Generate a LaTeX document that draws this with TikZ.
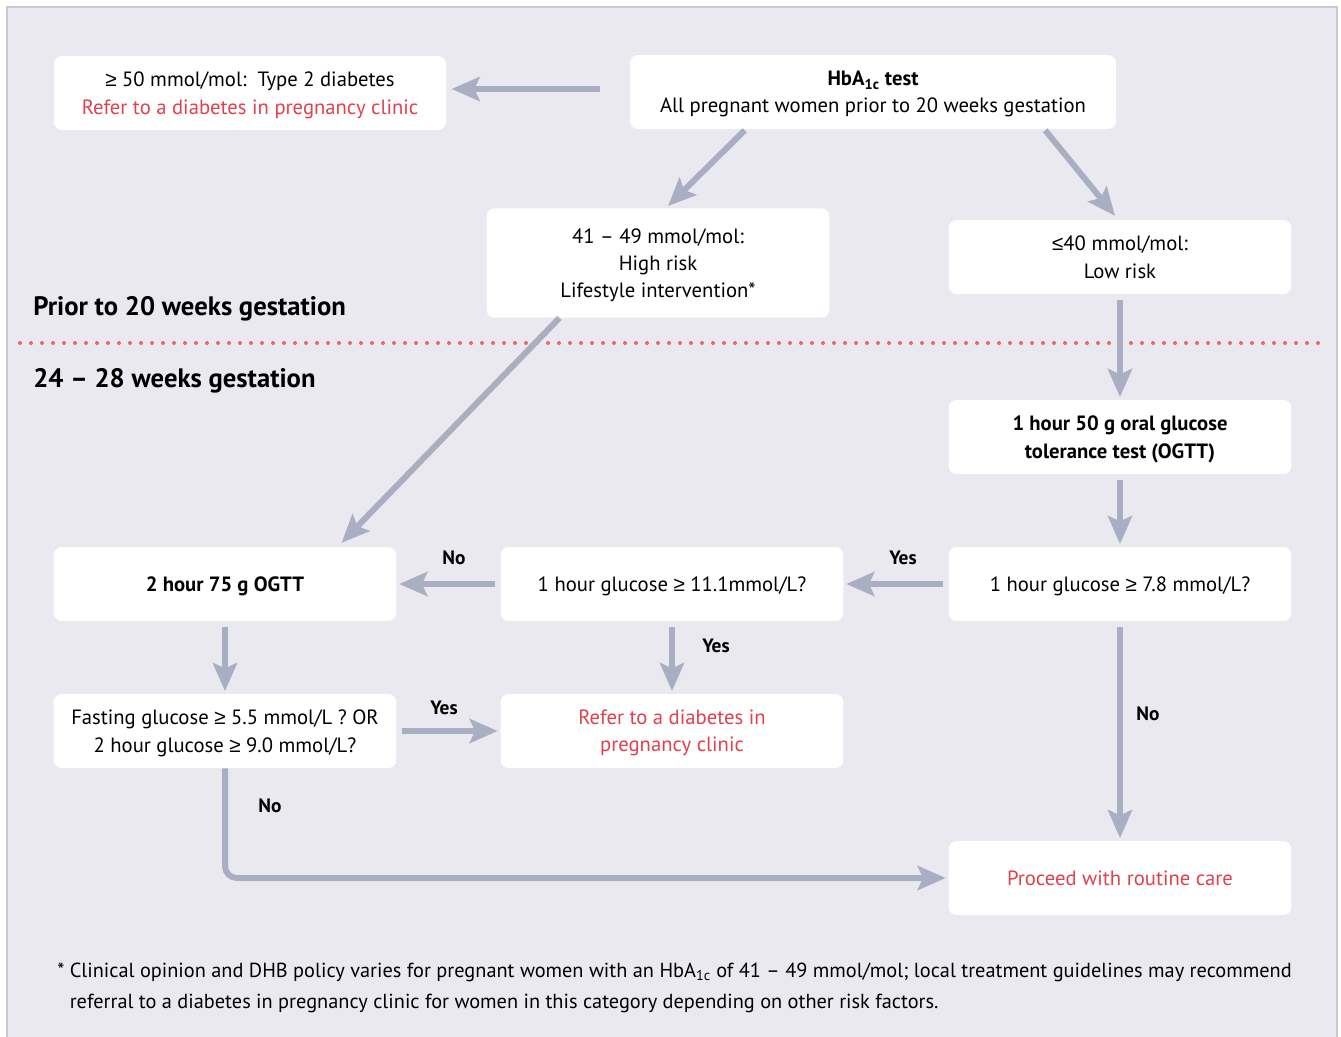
\documentclass[tikz,border=0pt]{standalone}
\usepackage{fontspec}
\setmainfont{PT Sans}
\newfontfamily\symfont{Liberation Sans}
\newcommand{\gte}{{\symfont ≥}}
\newcommand{\lte}{{\symfont ≤}}
\usetikzlibrary{arrows.meta,positioning,calc}
\definecolor{bggray}{HTML}{EAE9EF}
\definecolor{framegray}{HTML}{C9C9D1}
\definecolor{arrgray}{HTML}{A9AEC2}
\definecolor{refred}{HTML}{E2404E}
\definecolor{dotred}{HTML}{E8686C}
\tikzset{
  blk/.style={rectangle,fill=white,rounded corners=6pt,minimum width=257pt,minimum height=55.5pt,inner sep=2pt,text depth=0pt,align=center,font=\fontsize{15.5}{20.5}\selectfont},
  redblk/.style={blk,text=refred},
  arr/.style={-{Stealth[length=21pt,width=18pt,inset=4pt]},line width=4.5pt,draw=arrgray,shorten <=4pt,shorten >=2pt},
  lbl/.style={font=\fontsize{14.5}{16}\selectfont\bfseries},
  sect/.style={anchor=west,inner sep=0pt,font=\fontsize{20}{22}\selectfont\bfseries},
  dotline/.style={draw=dotred,line width=3pt,line cap=round,dash pattern=on 0pt off 8.25pt},
  note/.style={anchor=west,align=left,inner sep=0pt,font=\fontsize{15.25}{23.5}\selectfont}
}

\begin{document}
\begin{tikzpicture}[x=0.75pt,y=-0.75pt]
  \useasboundingbox (0,0) rectangle (1341,1036);
  % background and frame
  \fill[white] (0,0) rectangle (1341,1036);
  \draw[framegray,fill=bggray,line width=1.2pt] (7,1050) -- (7,7) -- (1337,7) -- (1337,1050);
  \draw[dotline] (20,343) -- (1325,343);

  \node[sect] (prior) at (33,309) {Prior to 20 weeks gestation};
  \node[sect] (later) at (33,381) {24 -- 28 weeks gestation};

  % boxes
  \node[blk,minimum width=364.5pt] (hba) at (873,92) {\textbf{HbA\textsubscript{1c} test}\\All pregnant women prior to 20 weeks gestation};
  \node[blk,minimum width=294pt] (t2d) at (250,93) {\gte{} 50 mmol/mol:\ \ Type 2 diabetes\\\textcolor{refred}{Refer to a diabetes in pregnancy clinic}};
  \node[blk,minimum height=82pt] (high) at (658,263) {41 -- 49 mmol/mol:\\High risk\\Lifestyle intervention*};
  \node[blk] (low) at (1120,257) {\lte40 mmol/mol:\\Low risk};
  \node[blk,font=\fontsize{15.5}{20.5}\selectfont\bfseries] (ogtt1) at (1120,437) {1 hour 50 g oral glucose\\tolerance test (OGTT)};
  \node[blk] (q78) at (1120,584) {1 hour glucose \gte{} 7.8 mmol/L?};
  \node[blk] (q111) at (672,584) {1 hour glucose \gte{} 11.1mmol/L?};
  \node[blk,font=\fontsize{15.5}{20.5}\selectfont\bfseries] (ogtt2) at (225,584) {2 hour 75 g OGTT};
  \node[blk] (fast) at (225,731) {Fasting glucose \gte{} 5.5 mmol/L ? OR\\2 hour glucose \gte{} 9.0 mmol/L?};
  \node[redblk] (refer) at (672,731) {Refer to a diabetes in\\pregnancy clinic};
  \node[redblk] (routine) at (1120,878) {Proceed with routine care};

  % connectors
  \draw[arr,shorten <=22.5pt,shorten >=4pt] ([yshift=2.25pt]hba.west) -- ([yshift=3pt]t2d.east);
  \draw[arr,shorten <=0pt,shorten >=0pt] ($(hba.south west)+(115,1)$) -- ($(high.north)+(10,-2)$);
  \draw[arr,shorten <=0pt,shorten >=0pt] ($(hba.south east)+(-71,1)$) -- ($(low.north)+(-5,-4)$);
  \draw[arr,shorten <=0pt,shorten >=0pt] ($(high.south west)+(73,0)$) -- ($(ogtt2.north east)+(-55,-4)$);
  \draw[arr] (low) -- (ogtt1);
  \draw[arr] (ogtt1) -- (q78);
  \draw[arr] (q78) -- (q111);
  \draw[arr] (q111) -- (ogtt2);
  \draw[arr] (q111) -- (refer);
  \draw[arr] (ogtt2) -- (fast);
  \draw[arr] (fast) -- (refer);
  \draw[arr] (q78) -- (routine);
  \draw[arr,shorten <=0pt,rounded corners=9pt] (fast.south) |- (routine.west);

  % answers
  \node[lbl] (yes1) at (903,558) {Yes};
  \node[lbl] (no1) at (454,558) {No};
  \node[lbl] (yes2) at (716,646) {Yes};
  \node[lbl] (yes3) at (444,708) {Yes};
  \node[lbl] (no2) at (1148,714) {No};
  \node[lbl] (no3) at (270,806) {No};

  \node[note] (foot) at (57,988) {*\ Clinical opinion and DHB policy varies for pregnant women with an HbA\textsubscript{1c} of 41 -- 49 mmol/mol; local treatment guidelines may recommend\\\phantom{*\ }referral to a diabetes in pregnancy clinic for women in this category depending on other risk factors.};
\end{tikzpicture}
\end{document}
